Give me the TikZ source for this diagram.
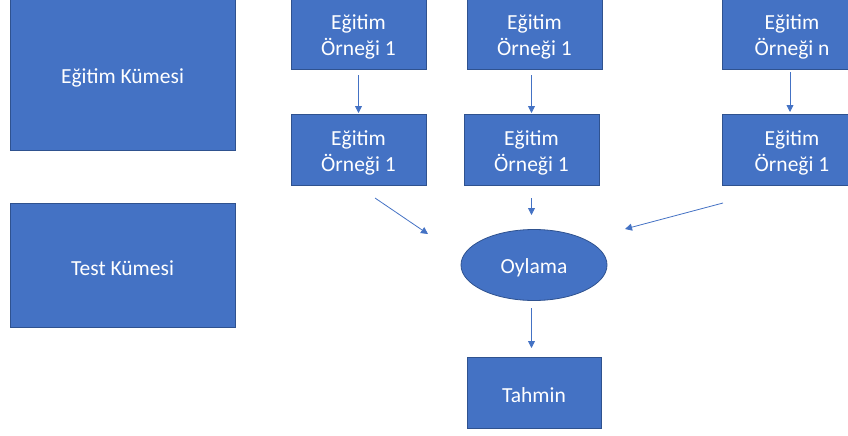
\documentclass[tikz,border=0pt]{standalone}
\usepackage{fontspec}
\setmainfont{Carlito}
\usetikzlibrary{arrows.meta,shapes.geometric}
\definecolor{boxfill}{HTML}{4472C4}
\definecolor{boxline}{HTML}{2F528F}
\tikzset{
  bluebox/.style={draw=boxline, fill=boxfill, line width=0.8pt,
    inner sep=0pt, outer sep=0pt},
  boxtext/.style={label={[text=white, align=center, inner sep=0pt, yshift=-3pt,
    font=\fontsize{21.5}{26}\selectfont]center:#1}},
  conn/.style={draw=boxfill, line width=0.8pt,
    -{Triangle[length=7pt,width=7pt]}},
}
\begin{document}
\begin{tikzpicture}[x=1pt,y=-1pt]
\useasboundingbox (0,0) rectangle (848,436);
% left sets
\node[bluebox, minimum width=225pt, minimum height=151pt, boxtext={Eğitim Kümesi}] (ek) at (122.5,74.5) {};
\node[bluebox, minimum width=225pt, minimum height=124pt, boxtext={Test Kümesi}] (tk) at (122.5,265) {};
% top row
\node[bluebox, minimum width=135pt, minimum height=71pt, boxtext={Eğitim\\Örneği 1}] (a1) at (358.5,34) {};
\node[bluebox, minimum width=135pt, minimum height=71pt, boxtext={Eğitim\\Örneği 1}] (a2) at (534.5,34) {};
\node[bluebox, minimum width=140pt, minimum height=71pt, boxtext={Eğitim\\Örneği n}] (an) at (792,34) {};
% second row
\node[bluebox, minimum width=135pt, minimum height=71pt, boxtext={Eğitim\\Örneği 1}] (b1) at (358.5,149.5) {};
\node[bluebox, minimum width=135pt, minimum height=71pt, boxtext={Eğitim\\Örneği 1}] (b2) at (531.5,149.5) {};
\node[bluebox, minimum width=140pt, minimum height=71pt, boxtext={Eğitim\\Örneği 1}] (bn) at (792,149.5) {};
% voting and prediction
\node[bluebox, ellipse, minimum width=146pt, minimum height=71pt, boxtext={Oylama}] (oy) at (534,265) {};
\node[bluebox, minimum width=134pt, minimum height=71pt, boxtext={Tahmin}] (th) at (534,392.5) {};
% connectors
\draw[conn] ([yshift=-5.5pt]a1.south) -- ([yshift=1pt]b1.north);
\draw[conn] ([yshift=-5.5pt]a2.south -| b2.south) -- ([yshift=1pt]b2.north);
\draw[conn] ([yshift=-2.5pt,xshift=-2pt]an.south) -- ([yshift=2pt,xshift=-2pt]bn.north);
\coordinate (s1) at (375,198);
\coordinate (e1) at (428,234);
\coordinate (s3) at (723,203);
\coordinate (e3) at (625,229);
\draw[conn] (s1) -- (e1);
\draw[conn] ([yshift=-13pt]b2.south) -- ([yshift=14.5pt]oy.north -| b2.south);
\draw[conn] (s3) -- (e3);
\draw[conn] ([yshift=-7.5pt]oy.south -| b2.south) -- ([yshift=9pt]th.north -| b2.south);
\end{tikzpicture}
\end{document}
